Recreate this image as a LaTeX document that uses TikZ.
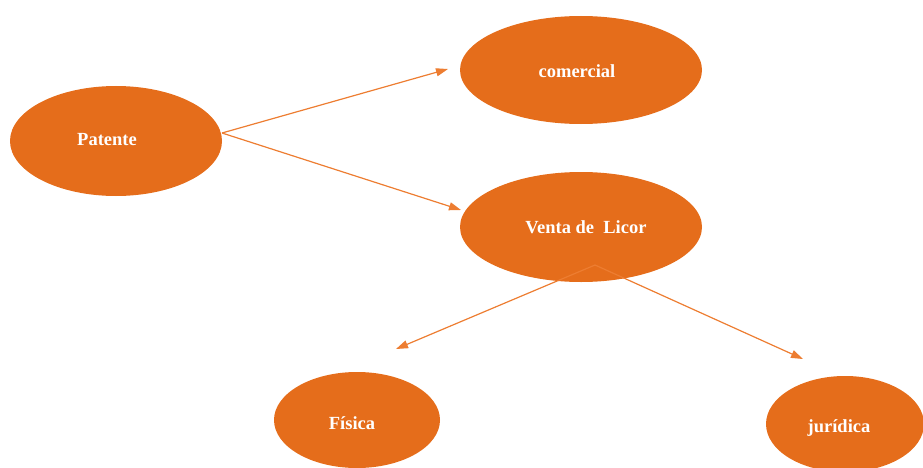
\documentclass[tikz,border=0pt]{standalone}
\usepackage{fontspec}
\setmainfont{Liberation Serif}
\usetikzlibrary{shapes.geometric,arrows.meta}
\definecolor{fillor}{HTML}{E56D1B}
\definecolor{lineor}{HTML}{ED7D31}
\tikzset{
  bubble/.style={ellipse, fill=fillor, draw=none, inner sep=0pt},
  txt/.style={text=white, inner sep=0pt, font=\fontsize{18.5}{22}\selectfont\bfseries},
  link/.style={draw=lineor, line width=1.2pt, -{Triangle[length=12pt,width=8pt]}}
}
\begin{document}
\begin{tikzpicture}[x=1pt,y=1pt]
\useasboundingbox (0,0) rectangle (923,467);
\clip (0,0) rectangle (923,467);
\node[bubble, minimum width=212pt, minimum height=110pt] (pat) at (116,326) {};
\node[bubble, minimum width=242pt, minimum height=108pt] (com) at (581,397) {};
\node[bubble, minimum width=242pt, minimum height=110pt] (ven) at (581,240) {};
\node[bubble, minimum width=166pt, minimum height=96pt] (fis) at (357,47) {};
\node[bubble, minimum width=158pt, minimum height=96pt] (jur) at (845,43) {};
\node[txt] (patt) at (107,327) {Patente};
\node[txt] (comt) at (577,396) {comercial};
\node[txt] (vent) at (586,240) {Venta de\ \ Licor};
\node[txt] (fist) at (352,44) {Física};
\node[txt] (jurt) at (839,39) {jurídica};
\coordinate (ps) at (222,334);
\coordinate (vs) at (595,202);
\coordinate (tc) at (448,398);
\coordinate (tv) at (461,257);
\coordinate (tf) at (396,118);
\coordinate (tj) at (803,108);
\draw[link] (ps) -- (tc);
\draw[link] (ps) -- (tv);
\draw[link] (vs) -- (tf);
\draw[link] (vs) -- (tj);
\end{tikzpicture}
\end{document}
